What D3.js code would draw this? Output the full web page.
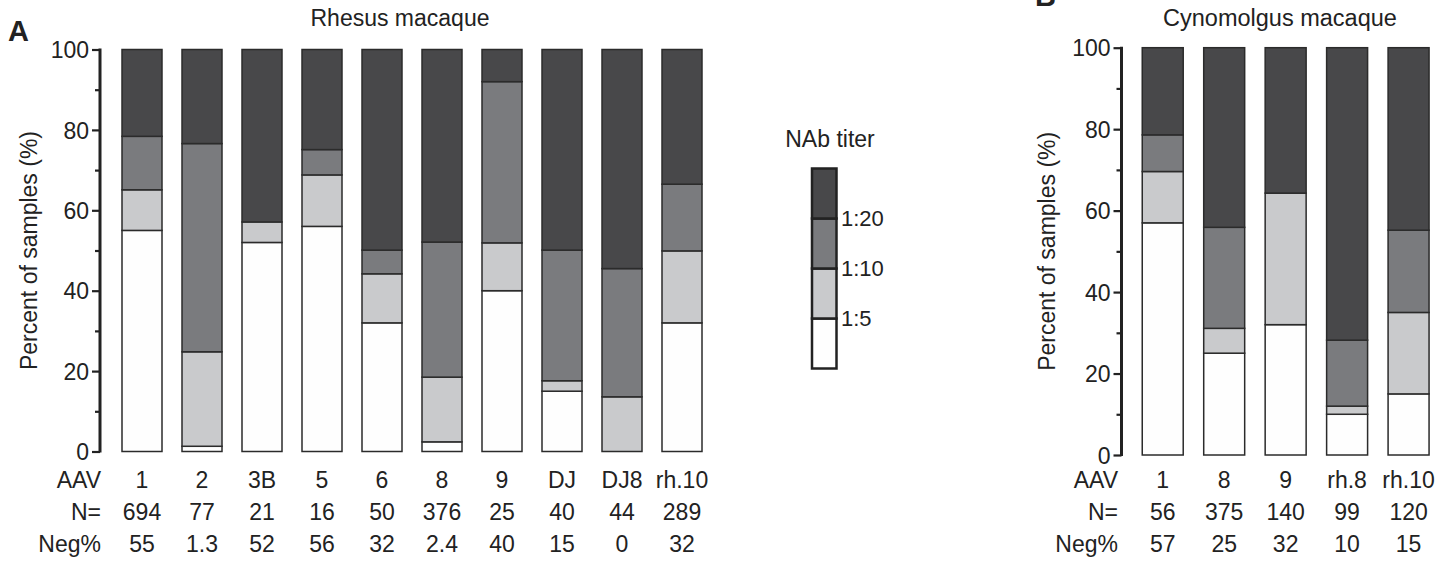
<!DOCTYPE html>
<html>
<head>
<meta charset="utf-8">
<script src="https://cdn.jsdelivr.net/npm/d3@7"></script>
<style>
  html, body { margin: 0; padding: 0; background: #fff; }
  svg { display: block; font-family: "Liberation Sans", Arial, sans-serif; }
  text { fill: #222; }
</style>
</head>
<body>
<svg id="chart" width="1443" height="565"></svg>
<script>
// ---------- DATA ----------
const seriesKeys = ["neg", "t5", "t10", "t20"];
const legendLabels = ["1:5", "1:10", "1:20"];

// Panel A – Rhesus macaque
const rhesusCategories = ["1", "2", "3B", "5", "6", "8", "9", "DJ", "DJ8", "rh.10"];
const rhesusN = ["694", "77", "21", "16", "50", "376", "25", "40", "44", "289"];
const rhesusNegLabels = ["55", "1.3", "52", "56", "32", "2.4", "40", "15", "0", "32"];
const rhesusNeg = [55, 1.3, 52, 56, 32, 2.4, 40, 15, 0, 32];
const rhesusT5 = [10.1, 23.5, 5.1, 12.8, 12.2, 16.1, 11.9, 2.6, 13.6, 17.9];
const rhesusT10 = [13.3, 51.8, 0, 6.3, 5.9, 33.6, 40.1, 32.5, 31.9, 16.6];
const rhesusT20 = [21.6, 23.4, 42.9, 24.9, 49.9, 47.9, 8.0, 49.9, 54.5, 33.5];

// Panel B – Cynomolgus macaque
const cynoCategories = ["1", "8", "9", "rh.8", "rh.10"];
const cynoN = ["56", "375", "140", "99", "120"];
const cynoNegLabels = ["57", "25", "32", "10", "15"];
const cynoNeg = [57, 25, 32, 10, 15];
const cynoT5 = [12.6, 6.1, 32.3, 2.0, 20.0];
const cynoT10 = [9.0, 24.8, 0, 16.2, 20.2];
const cynoT20 = [21.4, 44.1, 35.7, 71.8, 44.8];

const yMajorTicks = [0, 20, 40, 60, 80, 100];
const yMinorTicks = [10, 30, 50, 70, 90];

// ---------- STYLE ----------
const colors = { neg: "#fefefe", t5: "#c9cacc", t10: "#7a7b7e", t20: "#48484a" };
const strokeCol = "#2b2b2b";

const svg = d3.select("#chart");

function buildRows(cats, a, b, c, d) {
  return cats.map((cat, i) => ({ cat, neg: a[i], t5: b[i], t10: c[i], t20: d[i] }));
}

function drawPanel(opts) {
  const g = svg.append("g");
  const rows = buildRows(opts.cats, opts.neg, opts.t5, opts.t10, opts.t20);
  const x = d3.scaleBand().domain(opts.cats).range(opts.xRange)
    .paddingInner(1 / 3).paddingOuter(1 / 6);
  const y = d3.scaleLinear().domain([0, 100]).range(opts.yRange);
  const stacked = d3.stack().keys(seriesKeys)(rows);

  // bars
  g.selectAll("g.layer").data(stacked).join("g")
    .attr("class", "layer")
    .attr("fill", d => colors[d.key])
    .selectAll("rect").data(d => d).join("rect")
    .attr("x", d => x(d.data.cat))
    .attr("width", x.bandwidth())
    .attr("y", d => y(d[1]))
    .attr("height", d => y(d[0]) - y(d[1]))
    .attr("stroke", strokeCol)
    .attr("stroke-width", 1.5);

  // y axis: major ticks
  const axisX = opts.axisX;
  const major = d3.axisLeft(y).tickValues(yMajorTicks).tickSize(8).tickPadding(3).tickSizeOuter(0);
  const ga = g.append("g").attr("transform", `translate(${axisX},0)`).call(major);
  ga.select(".domain").remove();
  ga.selectAll(".tick line").attr("stroke", "#222").attr("stroke-width", 2.2);
  ga.selectAll(".tick text")
    .attr("font-size", 23).attr("font-family", "Liberation Sans, Arial, sans-serif")
    .attr("fill", "#222").attr("dy", "0.36em");
  const minor = d3.axisLeft(y).tickValues(yMinorTicks).tickSize(5).tickFormat("").tickSizeOuter(0);
  const gm = g.append("g").attr("transform", `translate(${axisX},0)`).call(minor);
  gm.select(".domain").remove();
  gm.selectAll(".tick line").attr("stroke", "#222").attr("stroke-width", 2.2);
  g.append("line")
    .attr("x1", axisX).attr("x2", axisX)
    .attr("y1", y(0) + 1).attr("y2", y(100) - 1)
    .attr("stroke", "#222").attr("stroke-width", 3);

  // y label
  g.append("text")
    .attr("transform", `translate(${opts.yLabelX},${(y(0) + y(100)) / 2}) rotate(-90)`)
    .attr("text-anchor", "middle").attr("font-size", 23)
    .text("Percent of samples (%)");

  // title
  g.append("text").attr("x", opts.titleX).attr("y", 26)
    .attr("text-anchor", "middle").attr("font-size", opts.titleSize).text(opts.title);

  // panel letter
  g.append("text").attr("x", opts.letterX).attr("y", opts.letterY)
    .attr("font-size", 29).attr("font-weight", "bold").attr("fill", "#111")
    .text(opts.letter);

  // bottom rows
  const rowDefs = [
    { label: "AAV", vals: opts.cats, yy: 488 },
    { label: "N=", vals: opts.nLabels, yy: 520 },
    { label: "Neg%", vals: opts.negLabels, yy: 552 }
  ];
  rowDefs.forEach(r => {
    g.append("text").attr("x", opts.rowLabelX).attr("y", r.yy)
      .attr("text-anchor", "end").attr("font-size", 23).text(r.label);
    g.selectAll(null).data(r.vals.map((v, i) => ({ v, cat: opts.cats[i] }))).join("text")
      .attr("x", d => x(d.cat) + x.bandwidth() / 2)
      .attr("y", r.yy).attr("text-anchor", "middle").attr("font-size", 23)
      .text(d => d.v);
  });
}

drawPanel({
  cats: rhesusCategories, neg: rhesusNeg, t5: rhesusT5, t10: rhesusT10, t20: rhesusT20,
  nLabels: rhesusN, negLabels: rhesusNegLabels,
  xRange: [112, 712], yRange: [451.5, 49.5], axisX: 100,
  yLabelX: 37, title: "Rhesus macaque", titleX: 400, titleSize: 23,
  letter: "A", letterX: 8, letterY: 41, rowLabelX: 101
});

drawPanel({
  cats: cynoCategories, neg: cynoNeg, t5: cynoT5, t10: cynoT10, t20: cynoT20,
  nLabels: cynoN, negLabels: cynoNegLabels,
  xRange: [1132, 1439.3], yRange: [455, 47.7], axisX: 1121.5,
  yLabelX: 1055, title: "Cynomolgus macaque", titleX: 1280, titleSize: 23.5,
  letter: "B", letterX: 1035, letterY: 6, rowLabelX: 1118
});

// ---------- LEGEND ----------
const lg = svg.append("g");
const legendScale = d3.scaleBand().domain(seriesKeys.slice().reverse()).range([168.5, 368.5]);
lg.append("text").attr("x", 830).attr("y", 147).attr("text-anchor", "middle")
  .attr("font-size", 23).text("NAb titer");
lg.selectAll("rect").data(seriesKeys).join("rect")
  .attr("x", 812).attr("width", 24.5)
  .attr("y", d => legendScale(d)).attr("height", legendScale.bandwidth())
  .attr("fill", d => colors[d]).attr("stroke", "#222").attr("stroke-width", 2.5);
lg.selectAll("text.ll").data(legendLabels).join("text")
  .attr("class", "ll")
  .attr("x", 841).attr("y", (d, i) => legendScale(seriesKeys[i]))
  .attr("dy", "0.36em").attr("font-size", 22).text(d => d);
</script>
</body>
</html>
